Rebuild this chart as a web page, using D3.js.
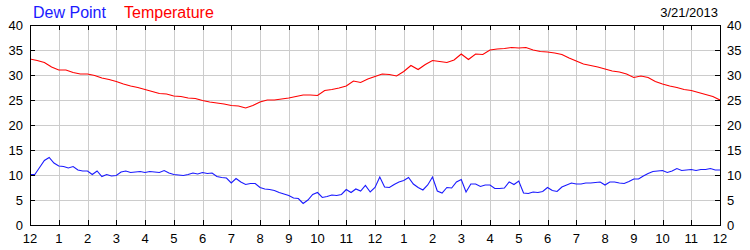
<!DOCTYPE html>
<html>
<head>
<meta charset="utf-8">
<script src="https://cdn.jsdelivr.net/npm/d3@7"></script>
<style>
  body { margin: 0; background: #fff; }
  svg { display: block; font-family: "Liberation Sans", Arial, sans-serif; }
</style>
</head>
<body>
<svg width="750" height="250"></svg>
<script>
// readings for 3/21/2013, midnight to midnight
let dateLabel = "3/21/2013";
let seriesNames = ["Dew Point", "Temperature"];
let hourLabels = ["12", "1", "2", "3", "4", "5", "6", "7", "8", "9", "10", "11",
  "12", "1", "2", "3", "4", "5", "6", "7", "8", "9", "10", "11", "12"];
let yTicks = [0, 5, 10, 15, 20, 25, 30, 35, 40];

// temperature every 15 minutes
let tempStepMin = 15;
let tempValues = [
  33.2, 32.9, 32.5, 31.6, 31.0, 31.0, 30.5, 30.2, 30.2, 29.9, 29.4, 29.1,
  28.7, 28.2, 27.8, 27.5, 27.1, 26.7, 26.3, 26.2, 25.8, 25.7, 25.4, 25.3,
  24.9, 24.6, 24.4, 24.2, 23.9, 23.8, 23.4, 23.9, 24.6, 25.0, 25.0, 25.2,
  25.4, 25.7, 26.0, 26.0, 25.9, 26.9, 27.1, 27.4, 27.8, 28.8, 28.5, 29.2,
  29.7, 30.2, 30.1, 29.8, 30.7, 31.9, 31.1, 32.1, 32.9, 32.7, 32.5, 33.0,
  34.2, 33.1, 34.2, 34.1, 35.0, 35.2, 35.3, 35.5, 35.4, 35.5, 35.0, 34.7,
  34.6, 34.4, 34.1, 33.4, 32.8, 32.2, 31.9, 31.6, 31.2, 30.8, 30.6, 30.2,
  29.5, 29.8, 29.5, 28.7, 28.2, 27.8, 27.5, 27.1, 26.9, 26.5, 26.1, 25.7,
  25.0
];

// dew point every 10 minutes
let dewStepMin = 10;
let dewValues = [
  10.1, 10.1, 11.5, 12.9, 13.5, 12.4, 11.8, 11.7, 11.4, 11.7, 11.0, 10.8,
  10.8, 10.1, 10.8, 9.7, 10.1, 9.8, 9.9, 10.6, 10.8, 10.5, 10.6, 10.7,
  10.5, 10.7, 10.6, 10.5, 10.9, 10.4, 10.1, 10.0, 9.9, 10.1, 10.4, 10.2,
  10.5, 10.3, 10.4, 9.7, 9.5, 9.4, 8.4, 9.3, 8.6, 8.1, 8.3, 8.3,
  7.5, 7.2, 7.1, 6.9, 6.5, 6.2, 5.9, 5.4, 5.3, 4.3, 5.0, 6.1,
  6.5, 5.5, 5.7, 6.0, 5.9, 6.1, 7.1, 6.5, 7.2, 6.8, 7.9, 6.6,
  7.5, 9.6, 7.6, 7.5, 8.1, 8.6, 8.9, 9.5, 8.2, 7.5, 7.0, 8.0,
  9.6, 6.8, 6.4, 7.5, 7.4, 8.6, 9.1, 6.6, 8.2, 8.2, 7.7, 8.0,
  8.0, 7.3, 7.3, 7.4, 8.6, 8.1, 8.8, 6.4, 6.3, 6.6, 6.5, 6.7,
  7.5, 6.9, 6.7, 7.6, 8.0, 8.4, 8.2, 8.2, 8.4, 8.4, 8.5, 8.6,
  8.0, 8.6, 8.6, 8.4, 8.3, 8.7, 9.2, 9.2, 9.8, 10.3, 10.7, 10.8,
  10.9, 10.5, 10.8, 11.3, 10.9, 11.0, 11.1, 10.9, 11.1, 11.1, 11.3, 11.0,
  11.0
];

let svg = d3.select("svg");
let plotLeft = 30, plotRight = 720, plotTop = 25, plotBottom = 225;

let xScale = d3.scaleLinear().domain([0, 24]).range([plotLeft, plotRight]);
let yScale = d3.scaleLinear().domain([0, 40]).range([plotBottom, plotTop]);
let px = function (v) { return Math.round(v) + 0.5; };

// grid
let grid = svg.append("g").attr("stroke", "#cccccc").attr("stroke-width", 1);
grid.selectAll("line.v")
  .data(d3.range(1, 24))
  .enter()
  .append("line")
  .attr("class", "v")
  .attr("x1", function (d) { return px(xScale(d)); })
  .attr("x2", function (d) { return px(xScale(d)); })
  .attr("y1", plotTop)
  .attr("y2", plotBottom);
grid.selectAll("line.h")
  .data(yTicks.slice(1, -1))
  .enter()
  .append("line")
  .attr("class", "h")
  .attr("x1", plotLeft)
  .attr("x2", plotRight)
  .attr("y1", function (d) { return px(yScale(d)); })
  .attr("y2", function (d) { return px(yScale(d)); });

// lines
let line = d3.line()
  .x(function (d) { return xScale(d[0]); })
  .y(function (d) { return yScale(d[1]); });

let dewPoints = dewValues.map(function (v, i) { return [i * dewStepMin / 60, v]; });
let tempPoints = tempValues.map(function (v, i) { return [i * tempStepMin / 60, v]; });

svg.append("path")
  .datum(dewPoints)
  .attr("fill", "none")
  .attr("stroke", "#1a1aff")
  .attr("stroke-width", 1.1)
  .attr("d", line);

svg.append("path")
  .datum(tempPoints)
  .attr("fill", "none")
  .attr("stroke", "#ff0000")
  .attr("stroke-width", 1.1)
  .attr("d", line);

// frame and inside ticks
let frame = svg.append("g").attr("stroke", "#000").attr("stroke-width", 1);
frame.append("rect")
  .attr("x", px(plotLeft))
  .attr("y", px(plotTop))
  .attr("width", plotRight - plotLeft)
  .attr("height", plotBottom - plotTop)
  .attr("fill", "none");
frame.selectAll("line.tb")
  .data(d3.range(1, 24))
  .enter()
  .append("line")
  .attr("class", "tb")
  .attr("x1", function (d) { return px(xScale(d)); })
  .attr("x2", function (d) { return px(xScale(d)); })
  .attr("y1", plotBottom)
  .attr("y2", plotBottom - 5);
frame.selectAll("line.tt")
  .data(d3.range(1, 24))
  .enter()
  .append("line")
  .attr("class", "tt")
  .attr("x1", function (d) { return px(xScale(d)); })
  .attr("x2", function (d) { return px(xScale(d)); })
  .attr("y1", plotTop)
  .attr("y2", plotTop + 5);
frame.selectAll("line.tl")
  .data(yTicks.slice(1, -1))
  .enter()
  .append("line")
  .attr("class", "tl")
  .attr("x1", plotLeft)
  .attr("x2", plotLeft + 5)
  .attr("y1", function (d) { return px(yScale(d)); })
  .attr("y2", function (d) { return px(yScale(d)); });
frame.selectAll("line.tr")
  .data(yTicks.slice(1, -1))
  .enter()
  .append("line")
  .attr("class", "tr")
  .attr("x1", plotRight - 5)
  .attr("x2", plotRight)
  .attr("y1", function (d) { return px(yScale(d)); })
  .attr("y2", function (d) { return px(yScale(d)); });

// tick labels
svg.append("g")
  .selectAll("text")
  .data(yTicks)
  .enter()
  .append("text")
  .attr("x", plotLeft - 7)
  .attr("y", function (d) { return yScale(d); })
  .attr("dy", "0.35em")
  .attr("text-anchor", "end")
  .attr("font-size", 13)
  .text(function (d) { return d; });

svg.append("g")
  .selectAll("text")
  .data(yTicks)
  .enter()
  .append("text")
  .attr("x", plotRight + 7)
  .attr("y", function (d) { return yScale(d); })
  .attr("dy", "0.35em")
  .attr("font-size", 13)
  .text(function (d) { return d; });

svg.append("g")
  .selectAll("text")
  .data(hourLabels)
  .enter()
  .append("text")
  .attr("x", function (d, i) { return xScale(i); })
  .attr("y", 243)
  .attr("text-anchor", "middle")
  .attr("font-size", 13)
  .text(function (d) { return d; });

// legend and date
svg.append("text")
  .attr("x", 33)
  .attr("y", 17.5)
  .attr("font-size", 16)
  .attr("fill", "#1a1aff")
  .text(seriesNames[0]);
svg.append("text")
  .attr("x", 124)
  .attr("y", 17.5)
  .attr("font-size", 16)
  .attr("fill", "#ff0000")
  .text(seriesNames[1]);
svg.append("text")
  .attr("x", 718)
  .attr("y", 17.3)
  .attr("text-anchor", "end")
  .attr("font-size", 13)
  .text(dateLabel);
</script>
</body>
</html>
